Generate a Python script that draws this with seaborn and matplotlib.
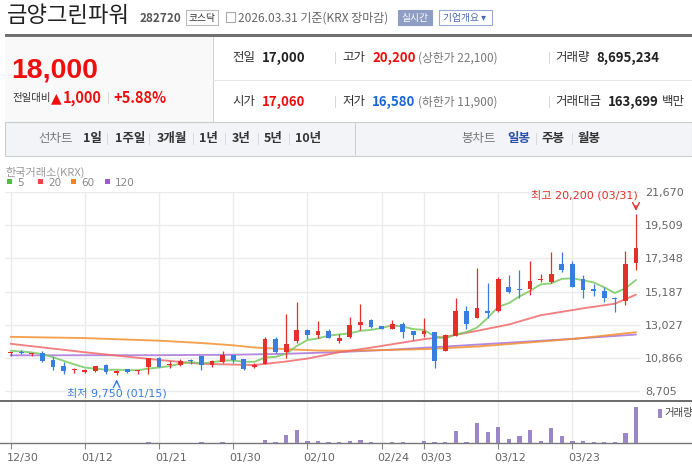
import numpy as np
import pandas as pd
import matplotlib
matplotlib.use('Agg')
import matplotlib.pyplot as plt
from matplotlib.patches import Rectangle
from matplotlib.transforms import ScaledTranslation
import seaborn as sns

# daily candles 12/30 ~ 03/31
opens = [11190, 11240, 11150, 11190, 10735, 10365, 10080, 10000, 10060, 10430,
         9930, 10170, 10060, 10320, 10866, 10430, 10395, 10690, 11015, 10417,
         10630, 11080, 10800, 10267, 10480, 12086, 11294, 11957, 12685, 12364,
         12621, 11990, 12249, 13027, 13330, 12962, 12789, 13092, 12638, 12465,
         12573, 11363, 12335, 13935, 13502, 13935, 13935, 15506, 15333, 15333,
         15918, 15831, 17001, 16980, 16005, 15376, 15246, 14791, 14574, 17060]
highs = [11240, 11390, 11200, 11320, 10910, 10625, 10255, 10190, 10365, 10475,
         10125, 10190, 10100, 10866, 10910, 10690, 10800, 10820, 11015, 10760,
         11337, 11080, 10800, 10566, 12236, 12236, 13734, 14483, 12728, 13263,
         12728, 12422, 13546, 14410, 13394, 12962, 13351, 13221, 12638, 13502,
         12573, 12443, 14777, 14259, 16744, 15771, 16139, 16265, 16611, 17196,
         16330, 17738, 17781, 17196, 16286, 15680, 15463, 14813, 17846, 20200]
lows = [10975, 11130, 10975, 10650, 10125, 9865, 9930, 9930, 9995, 9865,
        9750, 9910, 9820, 9865, 10280, 10210, 10350, 10520, 10075, 10270,
        10566, 10524, 10117, 10200, 10480, 11208, 10909, 11872, 12086, 12193,
        12150, 11882, 12206, 12703, 12833, 12746, 12789, 12206, 12033, 12249,
        10196, 11363, 12335, 12789, 13502, 13502, 13870, 15073, 14769, 14964,
        15788, 15745, 16438, 15463, 14748, 14878, 14488, 13881, 14336, 16580]
closes = [11230, 11220, 11190, 10690, 10320, 10040, 10100, 10125, 10340, 9970,
          10060, 9950, 10100, 10866, 10320, 10520, 10695, 10670, 10417, 10695,
          11080, 10760, 10180, 10438, 12086, 11294, 11786, 12685, 12364, 12621,
          12193, 12163, 13027, 13221, 12897, 12789, 13092, 12595, 12379, 12660,
          10693, 12379, 13935, 13113, 14129, 13805, 16009, 15138, 15290, 15896,
          15961, 16330, 16590, 15463, 15290, 15224, 14769, 14705, 17000, 18000]
volumes = [10000, 10000, 10000, 10000, 10000, 10000, 10000, 10000, 10000, 10000,
           10000, 10000, 10000, 240000, 10000, 10000, 10000, 10000, 240000, 20000,
           240000, 20000, 20000, 20000, 720000, 240000, 1990000, 3110000, 480000, 480000,
           240000, 240000, 480000, 720000, 240000, 30000, 240000, 240000, 30000, 480000,
           240000, 240000, 2870000, 240000, 4790000, 2630000, 3830000, 960000, 1680000, 3110000,
           480000, 3590000, 1680000, 480000, 480000, 240000, 240000, 240000, 2390000, 8695234]

# moving averages
ma5 = [11346, 11302, 11237, 11128, 10930, 10692, 10468, 10255, 10185, 10115,
       10119, 10089, 10084, 10189, 10259, 10351, 10500, 10614, 10524, 10599,
       10711, 10724, 10626, 10631, 10909, 10952, 11157, 11658, 12043, 12150,
       12330, 12405, 12474, 12645, 12700, 12819, 13005, 12919, 12750, 12703,
       12284, 12141, 12409, 12556, 12850, 13472, 14198, 14436, 14871, 15225,
       15656, 15720, 16013, 16048, 15927, 15779, 15467, 15090, 15398, 15940]
ma20_idx = [0, 7, 14, 18, 21, 23, 26, 28, 31, 34, 37, 39, 41, 44, 47, 50, 54, 57, 59]
ma20 = [11800, 11250, 10750, 10500, 10450, 10420, 10650, 10840, 11250, 11550,
        11880, 12100, 12250, 12640, 13050, 13650, 14100, 14400, 14990]
ma60_idx = [0, 7, 14, 18, 21, 23, 26, 29, 32, 39, 44, 47, 53, 59]
ma60 = [12250, 12170, 12000, 11850, 11700, 11560, 11450, 11360, 11350, 11450,
        11620, 11780, 12110, 12550]
ma120_idx = [0, 14, 21, 26, 31, 36, 40, 47, 53, 59]
ma120 = [11050, 11060, 11090, 11150, 11260, 11420, 11580, 11870, 12120, 12400]

tick_idx = [0, 7, 14, 21, 28, 35, 39, 46, 53]
tick_labels = ['12/30', '01/12', '01/21', '01/30', '02/10', '02/24', '03/03', '03/12', '03/23']
price_ticks = [8705, 10866, 13027, 15187, 17348, 19509, 21670]

RED = '#e3302b'
BLUE = '#3a7de0'
UPRED = '#f00e0e'

sns.set_theme(style='white')
plt.rcParams['font.family'] = ['Noto Sans CJK KR', 'DejaVu Sans']

W, H = 692, 470
fig = plt.figure(figsize=(W / 100, H / 100), dpi=100)


def t(x, y, s, **kw):
    kw.setdefault('va', 'center')
    return fig.text(x / W, 1 - y / H, s, **kw)


def box(x, y, w, h, **kw):
    fig.add_artist(Rectangle((x / W, 1 - (y + h) / H), w / W, h / H,
                             transform=fig.transFigure, **kw))


# ---------- header ----------
t(7, 16, '금양그린파워', fontsize=16, color='#222222')
t(140, 19, '282720', fontsize=8.5, fontweight='bold', color='#555555')
box(186, 10, 32, 15, facecolor='white', edgecolor='#bbbbbb', lw=0.8)
t(202, 17.5, '코스닥', fontsize=7, color='#333333', ha='center')
box(226, 12, 9, 10, facecolor='none', edgecolor='#aaaaaa', lw=0.8)
t(238, 18, '2026.03.31 기준(KRX 장마감)', fontsize=8.6, color='#666666')
box(398, 10, 34, 15, facecolor='#8d9dc6', edgecolor='#8d9dc6', lw=0.8)
t(415, 17.5, '실시간', fontsize=7, color='white', ha='center')
box(439, 10, 53, 15, facecolor='white', edgecolor='#9aaad6', lw=0.8)
t(443, 17.5, '기업개요 ▾', fontsize=7, color='#4a68b0')

box(5, 33.5, 687, 3, facecolor='#707070', edgecolor='none')
box(5, 37, 208, 85.5, facecolor='#f9f9f9', edgecolor='none')
box(213, 37, 0.8, 85.5, facecolor='#d0d0d0', edgecolor='none')
box(213, 80, 479, 0.8, facecolor='#e6e6e6', edgecolor='none')
box(5, 122.5, 687, 33, facecolor='#f3f4f7', edgecolor='#cccccc', lw=0.8)
box(355, 123, 0.8, 32, facecolor='#cccccc', edgecolor='none')

t(11, 70, '18,000', fontsize=20.5, fontweight='bold', color=UPRED,
  family=['Liberation Sans Narrow', 'Liberation Sans'])
t(12, 98, '전일대비', fontsize=7.5, color='#333333')
t(51, 98, '▲', fontsize=10, color=UPRED, family=['DejaVu Sans'])
t(63, 98, '1,000', fontsize=10.5, fontweight='bold', color=UPRED)
t(107, 98, '|', fontsize=8, color='#cccccc')
t(113, 98, '+5.88%', fontsize=10.5, fontweight='bold', color=UPRED)

rows = [
    (58, [(232, '전일', '#333333', 'normal'), (262, '17,000', '#222222', 'bold'),
          (342, '고가', '#333333', 'normal'), (372, '20,200', UPRED, 'bold'),
          (418, '(상한가 22,100)', '#777777', 'normal'),
          (555, '거래량', '#333333', 'normal'), (596, '8,695,234', '#222222', 'bold')]),
    (102, [(232, '시가', '#333333', 'normal'), (262, '17,060', UPRED, 'bold'),
           (342, '저가', '#333333', 'normal'), (372, '16,580', '#1a66d6', 'bold'),
           (418, '(하한가 11,900)', '#777777', 'normal'),
           (555, '거래대금', '#333333', 'normal'), (608, '163,699', '#222222', 'bold'),
           (662, '백만', '#333333', 'normal')]),
]
for yy, items in rows:
    for xx, s, c, w in items:
        size = 9.5 if w == 'bold' else 9
        if s.startswith('('):
            size = 8.5
        t(xx, yy, s, fontsize=size, color=c, fontweight=w)
    t(334, yy, '|', fontsize=8, color='#cccccc')
    t(548, yy, '|', fontsize=8, color='#cccccc')

t(38, 139, '선차트', fontsize=9, color='#777777')
for xx, s in [(83, '1일'), (115, '1주일'), (157, '3개월'), (199, '1년'),
              (232, '3년'), (264, '5년'), (295, '10년')]:
    t(xx, 139, s, fontsize=9, fontweight='bold', color='#333333')
for xx in [106, 148, 192, 224, 257, 288]:
    t(xx, 139, '|', fontsize=7, color='#cccccc')
t(461, 139, '봉차트', fontsize=9, color='#777777')
t(507, 139, '일봉', fontsize=9, fontweight='bold', color='#2b4fa8')
t(535, 139, '|', fontsize=7, color='#cccccc')
t(542, 139, '주봉', fontsize=9, fontweight='bold', color='#333333')
t(571, 139, '|', fontsize=7, color='#cccccc')
t(578, 139, '월봉', fontsize=9, fontweight='bold', color='#333333')

# chart legend
t(5, 172, '한국거래소(KRX)', fontsize=8, color='#999999')
for xx, c, s in [(7, '#55bb3a', '5'), (38, '#ee4444', '20'),
                 (71, '#f4841a', '60'), (105, '#9b59d6', '120')]:
    box(xx, 179.5, 5, 5, facecolor=c, edgecolor='none')
    t(xx + 10, 182.5, s, fontsize=7.5, color='#888888', family=['DejaVu Sans'])

# ---------- price panel ----------
ax = fig.add_axes([5 / W, 1 - 400.7 / H, 635 / W, 209 / H])
idx = np.arange(len(closes))
o = np.array(opens)
c = np.array(closes)
col = [RED if cc >= oo else BLUE for oo, cc in zip(o, c)]

ax.vlines(idx, lows, highs, colors=col, lw=0.9, zorder=3)
ax.bar(idx, np.maximum(np.abs(c - o), 60), bottom=np.minimum(o, c),
       width=0.46, color=col, zorder=4, linewidth=0)

ma_style = dict(lw=1.35, alpha=0.85, zorder=2)
sns.lineplot(x=ma120_idx, y=ma120, ax=ax, color='#a875d8', **ma_style)
sns.lineplot(x=ma60_idx, y=ma60, ax=ax, color='#f39030', **ma_style)
sns.lineplot(x=ma20_idx, y=ma20, ax=ax, color='#f06a6a', **ma_style)
sns.lineplot(x=idx, y=ma5, ax=ax, color='#78c860', **ma_style)

ax.set_xlim(-0.53, 59.38)
ax.set_ylim(8106, 21670)
ax.set_yticks(price_ticks)
ax.set_yticklabels([f'{v:,}' for v in price_ticks])
ax.yaxis.tick_right()
ax.tick_params(axis='y', length=0, pad=3.6, labelsize=8, labelcolor='#666666')
ax.set_xticks(tick_idx)
ax.tick_params(axis='x', length=0, labelbottom=False)
for lab in ax.get_yticklabels():
    lab.set_family(['DejaVu Sans'])
ax.grid(True, color='#ebebeb', lw=1)
ax.set_axisbelow(True)
for s in ax.spines.values():
    s.set_visible(False)
ax.set_xlabel('')
ax.set_ylabel('')

ax.annotate('', xy=(59, 20250), xytext=(59, 20950),
            arrowprops=dict(arrowstyle='->', color=RED, lw=1), annotation_clip=False)
ax.text(59.15, 21455, '최고 20,200 (03/31)', color=RED, fontsize=8, ha='right',
        va='center', family=['DejaVu Sans', 'Noto Sans CJK KR'], clip_on=False)
ax.annotate('', xy=(10, 9660), xytext=(10, 9100),
            arrowprops=dict(arrowstyle='->', color=BLUE, lw=1), annotation_clip=False)
ax.text(10, 8600, '최저 9,750 (01/15)', color=BLUE, fontsize=8, ha='center',
        va='center', family=['DejaVu Sans', 'Noto Sans CJK KR'], clip_on=False)

# ---------- volume panel ----------
axv = fig.add_axes([0, 1 - 443 / H, 1, 42.3 / H])
axv.bar(idx, volumes, width=0.4, color='#9b86c6', zorder=3, linewidth=0)
axv.set_xlim(-1.0, 64.28)
axv.set_ylim(0, 10.13e6)
axv.set_yticks([])
axv.set_xticks(tick_idx)
axv.set_xticklabels(tick_labels)
axv.tick_params(axis='x', length=4, width=0.8, color='#888888', pad=3,
                labelsize=8, labelcolor='#666666', bottom=True)
for lab in axv.get_xticklabels():
    lab.set_family(['DejaVu Sans'])
    lab.set_horizontalalignment('left')
    lab.set_transform(lab.get_transform() + ScaledTranslation(-4 / 100, 0, fig.dpi_scale_trans))
axv.grid(True, axis='x', color='#ebebeb', lw=1)
axv.set_axisbelow(True)
axv.spines['left'].set_visible(False)
axv.spines['right'].set_visible(False)
axv.spines['top'].set_color('#6a6a6a')
axv.spines['top'].set_linewidth(1.4)
axv.spines['bottom'].set_color('#777777')
axv.spines['bottom'].set_linewidth(1.0)
box(658, 409, 3.5, 8.5, facecolor='#9b86c6', edgecolor='none')
t(664, 413, '거래량', fontsize=7.5, color='#444444')

fig.savefig('out.png', dpi=100)
